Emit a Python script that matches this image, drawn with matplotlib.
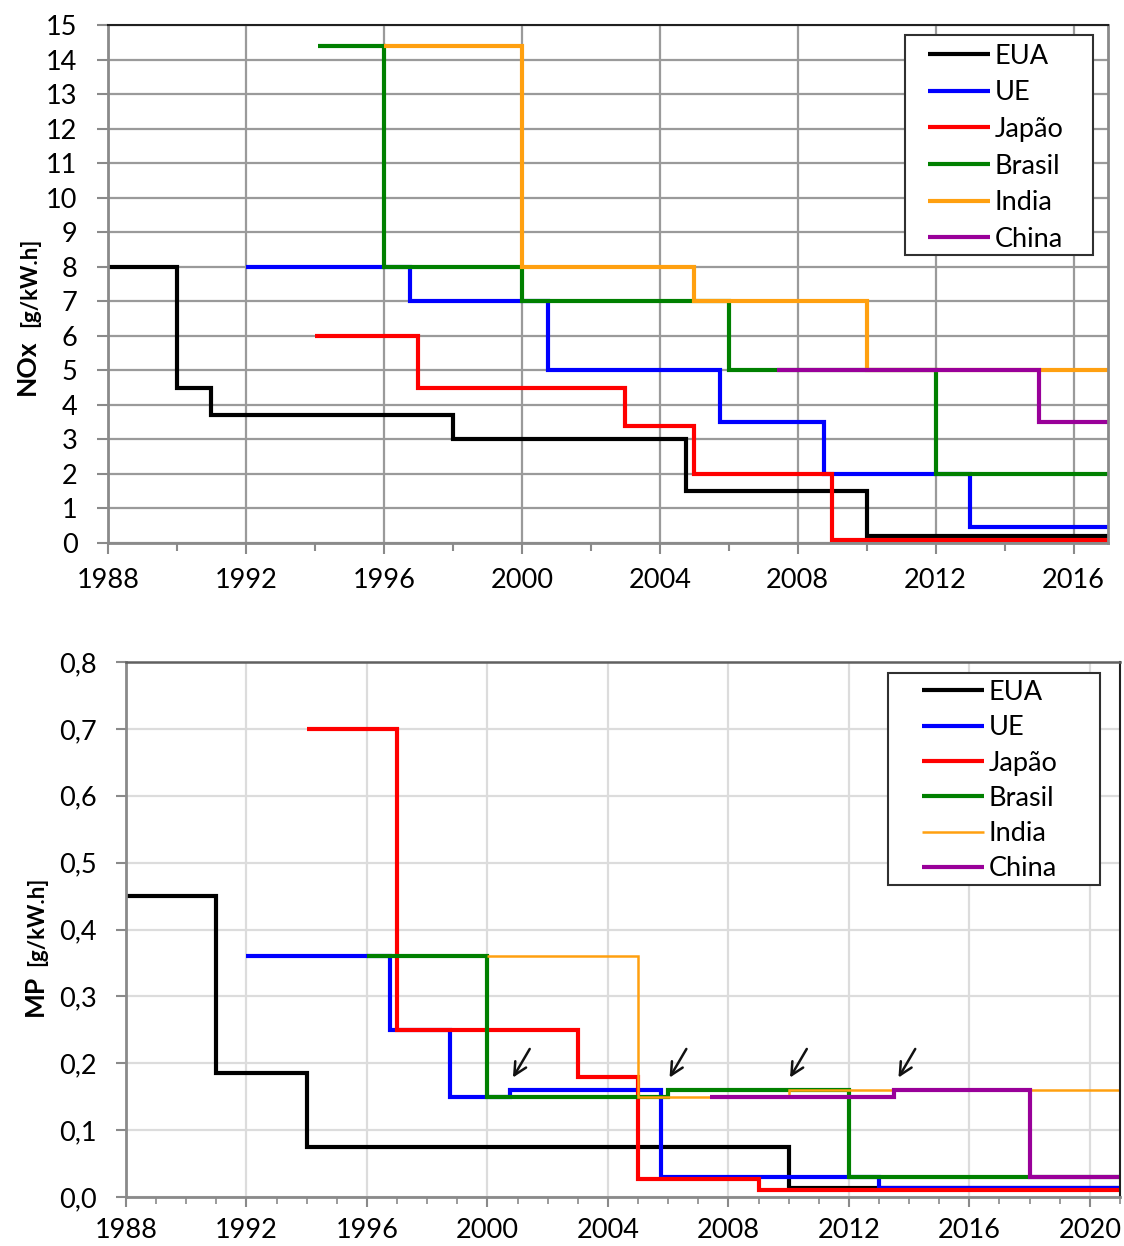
import matplotlib
matplotlib.use("Agg")
import matplotlib.pyplot as plt
from matplotlib.patches import Rectangle
from matplotlib.ticker import MultipleLocator, FixedLocator

plt.rcParams["font.family"] = ["Lato", "DejaVu Sans"]

countries = ["EUA", "UE", "Japão", "Brasil", "India", "China"]
colors = ["#000000", "#0000ff", "#ff0000", "#008000", "#ffa010", "#990099"]

# NOx limits [g/kW.h]: year where each level starts, level value (last point closes the step)
nox_years = [
    [1988, 1990, 1991, 1998, 2004.75, 2010, 2017],
    [1992, 1996.75, 2000.75, 2005.75, 2008.75, 2013, 2017],
    [1994, 1997, 2003, 2005, 2009, 2017],
    [1994.1, 1996, 2000, 2006, 2012, 2017],
    [1996, 2000, 2005, 2010, 2017],
    [2007.4, 2015, 2017],
]
nox_values = [
    [8, 4.5, 3.7, 3.0, 1.5, 0.2, 0.2],
    [8, 7, 5, 3.5, 2, 0.46, 0.46],
    [6, 4.5, 3.4, 2.0, 0.08, 0.08],
    [14.4, 8, 7, 5, 2, 2],
    [14.4, 8, 7, 5, 5],
    [5, 3.5, 3.5],
]

# particulate matter limits [g/kW.h]
mp_years = [
    [1988, 1991, 1994, 2010, 2021],
    [1992, 1996.75, 1998.75, 2000.75, 2005.75, 2013, 2021],
    [1994, 1997, 2003, 2005, 2009, 2021],
    [1996, 2000, 2006, 2012, 2021],
    [2000, 2005, 2010, 2021],
    [2007.4, 2013.5, 2018, 2021],
]
mp_values = [
    [0.45, 0.185, 0.075, 0.013, 0.013],
    [0.36, 0.25, 0.15, 0.16, 0.03, 0.013, 0.013],
    [0.70, 0.25, 0.18, 0.027, 0.01, 0.01],
    [0.36, 0.15, 0.16, 0.03, 0.03],
    [0.36, 0.15, 0.16, 0.16],
    [0.15, 0.16, 0.03, 0.03],
]
mp_widths = [3.0, 3.0, 3.0, 3.0, 1.8, 3.0]

# years where a limit was raised slightly (marked with arrows)
arrow_years = [2000.8, 2006.0, 2010.0, 2013.6]

tick_fs = 19.5
leg_fs = 19.5
fig = plt.figure(figsize=(11.24, 12.46), dpi=100)


def legend_box(ax, anchor, frame, spacing):
    # legend entries without their own frame, plus a plain rectangle behind them
    leg = ax.legend(loc="upper left", bbox_to_anchor=anchor,
                    bbox_transform=fig.transFigure, borderaxespad=0,
                    borderpad=0, fontsize=leg_fs, handlelength=2.3,
                    handletextpad=0.15, labelspacing=spacing, frameon=False)
    leg.set_zorder(6)
    ax.add_patch(Rectangle(frame[:2], frame[2], frame[3],
                           transform=fig.transFigure, facecolor="white",
                           edgecolor="#303030", lw=1.5, zorder=5,
                           clip_on=False))
    return leg


# ---------------- NOx ----------------
ax1 = fig.add_axes([0.0961, 0.5642, 0.8897, 0.4157])
for yrs, vals, c, name in zip(nox_years, nox_values, colors, countries):
    ax1.step(yrs, vals, where="post", color=c, lw=3.0, label=name,
             solid_joinstyle="miter", solid_capstyle="butt")
ax1.set_xlim(1988, 2017)
ax1.set_ylim(0, 15)
ax1.xaxis.set_major_locator(MultipleLocator(4))
ax1.xaxis.set_minor_locator(FixedLocator(range(1990, 2017, 4)))
ax1.yaxis.set_major_locator(MultipleLocator(1))
ax1.grid(True, which="major", color="#9a9a9a", lw=1.6)
ax1.set_axisbelow(True)
ax1.tick_params(axis="both", which="major", direction="out", length=8,
                width=1.5, color="#8a8a8a", labelsize=tick_fs)
ax1.tick_params(axis="x", which="minor", direction="out", length=6,
                width=1.5, color="#8a8a8a")
ax1.tick_params(axis="x", pad=10)
ax1.tick_params(axis="y", pad=14)
for s in ["left", "bottom", "right"]:
    ax1.spines[s].set_color("#8a8a8a")
    ax1.spines[s].set_linewidth(2.0)
ax1.spines["top"].set_color("#202020")
ax1.spines["top"].set_linewidth(1.5)

legend_box(ax1, (0.8256, 0.9650), (0.8052, 0.7953, 0.1673, 0.1766), 0.43)

fig.text(0.024, 0.7055, "NOx", rotation=90, ha="center", va="center",
         fontsize=19, fontweight="bold")
fig.text(0.026, 0.7737, "[g/kW.h]", rotation=90, ha="center", va="center",
         fontsize=16, fontweight="bold")

# ---------------- MP ----------------
ax2 = fig.add_axes([0.1121, 0.0393, 0.8843, 0.4294])
for yrs, vals, c, name, w in zip(mp_years, mp_values, colors, countries, mp_widths):
    ax2.step(yrs, vals, where="post", color=c, lw=w, label=name,
             solid_joinstyle="miter", solid_capstyle="butt")
ax2.set_xlim(1988, 2021)
ax2.set_ylim(0, 0.8)
ax2.xaxis.set_major_locator(MultipleLocator(4))
ax2.xaxis.set_minor_locator(MultipleLocator(1))
ax2.yaxis.set_major_locator(MultipleLocator(0.1))
ax2.yaxis.set_major_formatter(lambda v, p: f"{v:.1f}".replace(".", ","))
ax2.grid(True, which="major", color="#dcdcdc", lw=1.6)
ax2.set_axisbelow(True)
ax2.tick_params(axis="both", which="major", direction="out", length=7,
                width=1.5, color="#8a8a8a", labelsize=tick_fs)
ax2.tick_params(axis="x", which="minor", direction="out", length=5,
                width=1.2, color="#8a8a8a")
ax2.tick_params(axis="x", pad=8)
ax2.tick_params(axis="y", pad=14)
for s in ["left", "bottom"]:
    ax2.spines[s].set_color("#8a8a8a")
    ax2.spines[s].set_linewidth(2.0)
ax2.spines["top"].set_color("#606060")
ax2.spines["top"].set_linewidth(1.8)
ax2.spines["right"].set_color("#202020")
ax2.spines["right"].set_linewidth(1.5)

for yr in arrow_years:
    ax2.annotate("", xy=(yr, 0.175), xytext=(yr + 0.65, 0.225),
                 arrowprops=dict(arrowstyle="->,head_length=0.9,head_width=0.45",
                                 color="#111111", lw=1.8))

legend_box(ax2, (0.8203, 0.4543), (0.790, 0.2897, 0.1886, 0.1701), 0.38)

fig.text(0.031, 0.2014, "MP", rotation=90, ha="center", va="center",
         fontsize=19, fontweight="bold")
fig.text(0.033, 0.2608, "[g/kW.h]", rotation=90, ha="center", va="center",
         fontsize=16, fontweight="bold")

fig.savefig("out.png", dpi=100)
